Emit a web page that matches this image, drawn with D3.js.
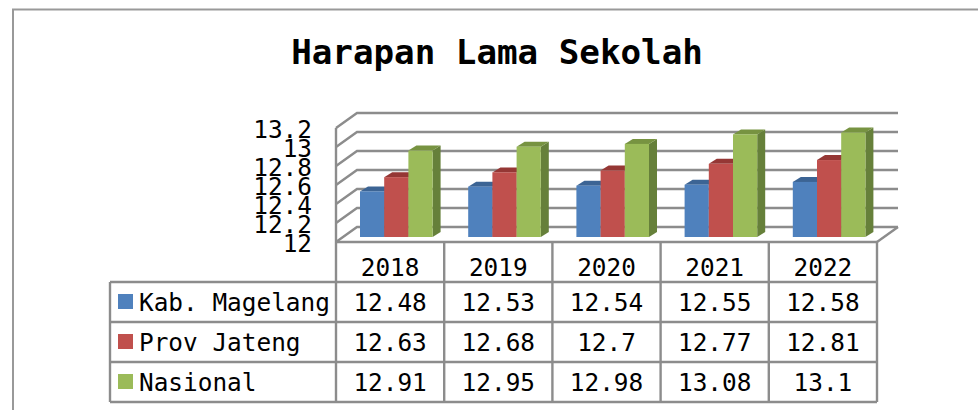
<!DOCTYPE html>
<html>
<head>
<meta charset="utf-8">
<title>Harapan Lama Sekolah</title>
<script src="https://cdn.jsdelivr.net/npm/d3@7"></script>
<style>
html,body{margin:0;padding:0;background:#fff;}
svg{display:block;}
text{font-family:"DejaVu Sans Mono",monospace;fill:#000;}
</style>
</head>
<body>
<div id="chart"></div>
<script>
// data
var years=["2018","2019","2020","2021","2022"];
var seriesNames=["Kab. Magelang","Prov Jateng","Nasional"];
var magelang=[12.48,12.53,12.54,12.55,12.58];
var jateng=[12.63,12.68,12.7,12.77,12.81];
var nasional=[12.91,12.95,12.98,13.08,13.1];
var yTicks=[12,12.2,12.4,12.6,12.8,13,13.2];
var seriesValues=[magelang,jateng,nasional];

// front colour, top colour, side colour for each series
var colors=["#4f81bd","#c0504d","#9bbb59"];
var topColors=["#3c6494","#953735","#779341"];
var sideColors=["#375a85","#843230","#66803a"];
var lineColor="#8c8c8c";

var width=978,height=410;
var plotLeft=336,plotRight=877;
var floorY=242,wallH=114;
var depthX=21,depthY=15;
var barDepthX=8,barDepthY=5;
var legendLeft=110;
var rowH=40;
var fontSize="24.4px";

var svg=d3.select("#chart").append("svg")
	.attr("width",width)
	.attr("height",height);

// outer frame, only top and left are in the picture
svg.append("path")
	.attr("d","M13,"+height+"V9.5H"+width)
	.attr("fill","none")
	.attr("stroke","#999")
	.attr("stroke-width",2);

svg.append("text")
	.attr("x",497)
	.attr("y",64)
	.attr("text-anchor","middle")
	.style("font-size","34.2px")
	.style("font-weight","bold")
	.text("Harapan Lama Sekolah");

var x=d3.scaleBand().domain(years).range([plotLeft,plotRight]);
// y on the front edge of the wall, the back wall and bars are this one shifted
var y=d3.scaleLinear().domain([12,13.2]).range([floorY,floorY-wallH]);

// grid on the walls
var grid=svg.append("g")
	.attr("fill","none")
	.attr("stroke",lineColor)
	.attr("stroke-width",2.4);

grid.selectAll("path.gridline")
	.data(yTicks)
	.enter()
	.append("path")
	.attr("class","gridline")
	.attr("d",function(d){
		return "M"+plotLeft+","+y(d)+"L"+(plotLeft+depthX)+","+(y(d)-depthY)+"H"+(plotRight+depthX);
	});

grid.append("path")
	.attr("d","M"+plotLeft+","+y(12)+"V"+y(13.2));
grid.append("path")
	.attr("d","M"+plotRight+","+floorY+"L"+(plotRight+depthX)+","+(floorY-depthY));

// y labels
var yAxis=d3.axisLeft(y).tickValues(yTicks).tickSize(0).tickPadding(0).tickFormat(String);
var yG=svg.append("g")
	.attr("transform","translate(312,1)")
	.call(yAxis);
yG.select(".domain").remove();
yG.selectAll("text")
	.attr("dy","0.36em")
	.style("font-size",fontSize)
	.style("font-family",'"DejaVu Sans Mono",monospace');

// bars
var barW=24.2;
var barOffset=24;
var barBase=y(12)-5;

function barY(v){ return y(v)-5; }

years.forEach(function(year,i){
	var g=svg.append("g").attr("class","cluster");
	seriesValues.forEach(function(values,s){
		var x0=x(year)+barOffset+s*barW;
		var x1=x0+barW;
		var t=barY(values[i]);
		// side
		g.append("polygon")
			.attr("fill",sideColors[s])
			.attr("points",[[x1,t],[x1+barDepthX,t-barDepthY],[x1+barDepthX,barBase-barDepthY],[x1,barBase]].join(" "));
		// top
		g.append("polygon")
			.attr("fill",topColors[s])
			.attr("points",[[x0,t],[x0+barDepthX,t-barDepthY],[x1+barDepthX,t-barDepthY],[x1,t]].join(" "));
		// front
		g.append("rect")
			.attr("x",x0)
			.attr("y",t)
			.attr("width",barW)
			.attr("height",barBase-t)
			.attr("fill",colors[s]);
	});
});

// data table
var rows=d3.scaleBand().domain(seriesNames).range([floorY+rowH,floorY+rowH*4]);
var table=svg.append("g")
	.attr("fill","none")
	.attr("stroke",lineColor)
	.attr("stroke-width",2.4);

table.append("path")
	.attr("d","M"+plotLeft+","+floorY+"H"+plotRight);
table.selectAll("path.rowline")
	.data(seriesNames)
	.enter()
	.append("path")
	.attr("class","rowline")
	.attr("d",function(d){
		return "M"+legendLeft+","+rows(d)+"H"+plotRight;
	});
table.append("path")
	.attr("d","M"+legendLeft+","+(rows.range()[1])+"H"+plotRight);
table.append("path")
	.attr("d","M"+legendLeft+","+rows.range()[0]+"V"+rows.range()[1]);
table.selectAll("path.colline")
	.data(years)
	.enter()
	.append("path")
	.attr("class","colline")
	.attr("d",function(d){
		return "M"+x(d)+","+floorY+"V"+rows.range()[1];
	});
table.append("path")
	.attr("d","M"+plotRight+","+floorY+"V"+rows.range()[1]);

svg.selectAll("text.year")
	.data(years)
	.enter()
	.append("text")
	.attr("class","year")
	.attr("x",function(d){ return x(d)+x.bandwidth()/2; })
	.attr("y",floorY+34)
	.attr("text-anchor","middle")
	.style("font-size",fontSize)
	.text(function(d){ return d; });

seriesNames.forEach(function(name,s){
	var rowY=rows(name);
	svg.append("rect")
		.attr("x",118)
		.attr("y",rowY+12)
		.attr("width",15)
		.attr("height",15)
		.attr("fill",colors[s]);
	svg.append("text")
		.attr("x",139)
		.attr("y",rowY+29)
		.style("font-size",fontSize)
		.text(name);
	svg.selectAll("text.val"+s)
		.data(seriesValues[s])
		.enter()
		.append("text")
		.attr("class","val"+s)
		.attr("x",function(d,i){ return x(years[i])+x.bandwidth()/2; })
		.attr("y",rowY+29)
		.attr("text-anchor","middle")
		.style("font-size",fontSize)
		.text(function(d){ return d; });
});
</script>
</body>
</html>
